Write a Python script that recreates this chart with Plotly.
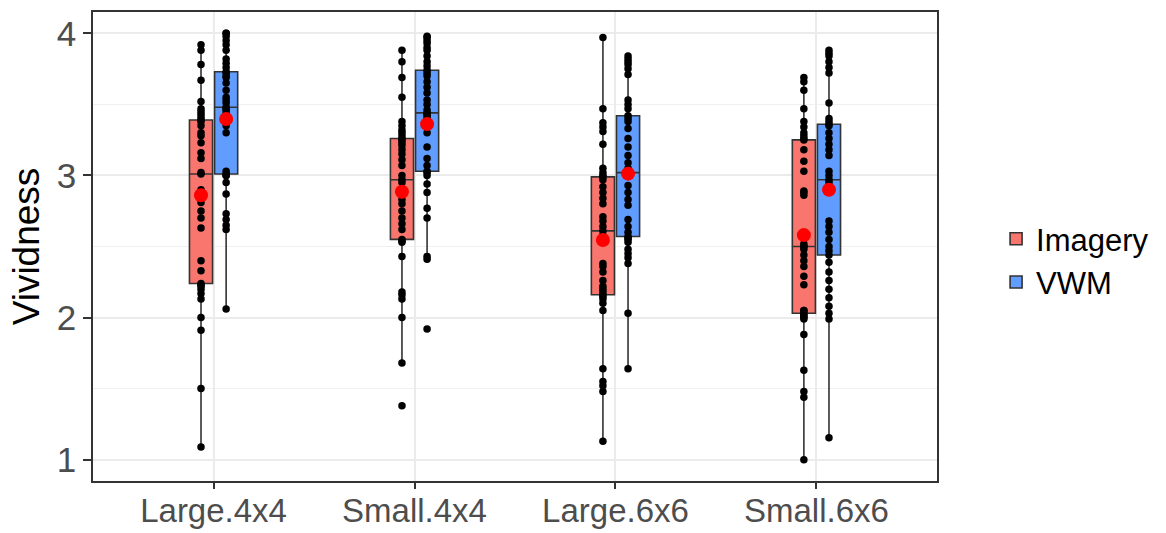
import numpy as np
import plotly.graph_objects as go

categories = ["Large.4x4", "Small.4x4", "Large.6x6", "Small.6x6"]
groups = ["Imagery", "VWM"]

imagery_large_4x4 = [1.09, 1.50, 1.91, 2.00, 2.13, 2.17, 2.20, 2.22, 2.23, 2.24,
                     2.33, 2.40, 2.63, 2.70, 2.75, 2.81, 2.85, 2.90, 3.01,
                     3.02, 3.12, 3.16, 3.23, 3.28, 3.30, 3.35, 3.38, 3.39,
                     3.41, 3.43, 3.45, 3.47, 3.52, 3.67, 3.78, 3.88, 3.92]
vwm_large_4x4 = [2.06, 2.62, 2.65, 2.69, 2.73, 2.87, 2.95, 3.00, 3.00, 3.01,
                 3.03, 3.30, 3.35, 3.40, 3.42, 3.44, 3.46, 3.47, 3.48,
                 3.51, 3.53, 3.55, 3.60, 3.65, 3.69, 3.70, 3.72, 3.73,
                 3.76, 3.79, 3.82, 3.88, 3.92, 3.95, 3.98, 4.00, 4.00]
imagery_small_4x4 = [1.38, 1.68, 2.00, 2.13, 2.16, 2.18, 2.43, 2.53, 2.54, 2.55,
                     2.62, 2.66, 2.70, 2.75, 2.80, 2.83, 2.90, 2.95, 2.97,
                     3.00, 3.07, 3.11, 3.15, 3.18, 3.21, 3.23, 3.25, 3.26,
                     3.28, 3.30, 3.32, 3.35, 3.38, 3.55, 3.69, 3.80, 3.88]
vwm_small_4x4 = [1.92, 2.41, 2.43, 2.70, 2.77, 2.88, 2.94, 3.00, 3.02, 3.03,
                 3.07, 3.12, 3.20, 3.30, 3.35, 3.40, 3.42, 3.43, 3.44,
                 3.46, 3.50, 3.53, 3.58, 3.62, 3.66, 3.70, 3.72, 3.74,
                 3.77, 3.80, 3.84, 3.88, 3.90, 3.93, 3.95, 3.97, 3.98]
imagery_large_6x6 = [1.13, 1.48, 1.52, 1.55, 1.64, 2.05, 2.10, 2.13, 2.15, 2.16,
                     2.18, 2.20, 2.22, 2.26, 2.32, 2.36, 2.38, 2.58, 2.61,
                     2.64, 2.68, 2.71, 2.80, 2.84, 2.88, 2.92, 2.97, 2.99,
                     3.00, 3.02, 3.05, 3.22, 3.31, 3.34, 3.37, 3.47, 3.97]
vwm_large_6x6 = [1.64, 2.03, 2.38, 2.42, 2.45, 2.48, 2.53, 2.55, 2.56, 2.57,
                 2.60, 2.64, 2.69, 2.79, 2.83, 2.88, 2.93, 3.00, 3.02,
                 3.05, 3.09, 3.14, 3.20, 3.26, 3.33, 3.38, 3.40, 3.42,
                 3.47, 3.50, 3.53, 3.71, 3.75, 3.78, 3.80, 3.82, 3.84]
imagery_small_6x6 = [1.00, 1.44, 1.48, 1.63, 1.88, 1.99, 2.00, 2.01, 2.02, 2.03,
                     2.05, 2.05, 2.23, 2.29, 2.36, 2.40, 2.44, 2.48, 2.50,
                     2.50, 2.52, 2.86, 2.88, 2.89, 3.03, 3.10, 3.18, 3.25,
                     3.26, 3.28, 3.30, 3.34, 3.38, 3.47, 3.60, 3.66, 3.69]
vwm_small_6x6 = [1.155, 1.99, 2.03, 2.08, 2.14, 2.20, 2.26, 2.32, 2.39, 2.44,
                 2.47, 2.50, 2.55, 2.60, 2.64, 2.68, 2.90, 2.95, 2.97,
                 3.00, 3.03, 3.14, 3.18, 3.22, 3.26, 3.30, 3.35, 3.36,
                 3.38, 3.40, 3.51, 3.72, 3.76, 3.80, 3.84, 3.86, 3.88]

series = {
    "Imagery": [imagery_large_4x4, imagery_small_4x4, imagery_large_6x6, imagery_small_6x6],
    "VWM": [vwm_large_4x4, vwm_small_4x4, vwm_large_6x6, vwm_small_6x6],
}
colors = {"Imagery": "#F8766D", "VWM": "#619CFF"}
offsets = {"Imagery": -0.0625, "VWM": 0.0625}
box_width = 0.115

fig = go.Figure()

def stats(v):
    a = np.asarray(v, dtype=float)
    q1, med, q3 = np.percentile(a, [25, 50, 75])
    iqr = q3 - q1
    lf = a[a >= q1 - 1.5 * iqr].min()
    uf = a[a <= q3 + 1.5 * iqr].max()
    return q1, med, q3, lf, uf

for g in groups:
    for i, vals in enumerate(series[g]):
        pos = i + 1 + offsets[g]
        q1, med, q3, lf, uf = stats(vals)
        fig.add_trace(go.Box(
            x=[pos], q1=[q1], median=[med], q3=[q3],
            lowerfence=[lf], upperfence=[uf],
            width=box_width, whiskerwidth=0,
            fillcolor=colors[g], line=dict(color="#333333", width=1.6),
            name=g, legendgroup=g, showlegend=(i == 0),
            boxpoints=False, hoverinfo="skip",
        ))

for g in groups:
    for i, vals in enumerate(series[g]):
        pos = i + 1 + offsets[g]
        fig.add_trace(go.Scatter(
            x=[pos] * len(vals), y=vals, mode="markers",
            marker=dict(color="black", size=7.5),
            showlegend=False, hoverinfo="skip",
        ))

for g in groups:
    for i, vals in enumerate(series[g]):
        pos = i + 1 + offsets[g]
        fig.add_trace(go.Scatter(
            x=[pos], y=[float(np.mean(vals))], mode="markers",
            marker=dict(color="red", size=14),
            showlegend=False, hoverinfo="skip",
        ))

fig.update_layout(
    width=1166, height=533,
    margin=dict(l=93, r=225, t=12, b=52),
    plot_bgcolor="white", paper_bgcolor="white",
    font=dict(family="Liberation Sans, Arial, sans-serif"),
    showlegend=True,
    legend=dict(x=1.07, y=0.47, xanchor="left", yanchor="middle",
                font=dict(size=31, color="black"),
                bgcolor="rgba(0,0,0,0)", tracegroupgap=0, itemwidth=30),
    boxmode="overlay",
)
fig.update_xaxes(
    range=[0.4, 4.6], tickvals=[1, 2, 3, 4], ticktext=categories,
    automargin=False,
    showgrid=True, gridcolor="#EBEBEB", gridwidth=1.5, zeroline=False,
    showline=True, mirror=True, linecolor="#333333", linewidth=1.5,
    ticks="outside", ticklen=6, tickcolor="#333333", tickwidth=1.5,
    ticklabelstandoff=-6,
    tickfont=dict(size=33, color="#4D4D4D"),
)
fig.update_yaxes(
    range=[0.85, 4.15], tickvals=[1, 2, 3, 4],
    automargin=False,
    showgrid=True, gridcolor="#EBEBEB", gridwidth=1.5, zeroline=False,
    minor=dict(tickvals=[1.5, 2.5, 3.5], showgrid=True, gridcolor="#F0F0F0", gridwidth=1),
    showline=True, mirror=True, linecolor="#333333", linewidth=1.5,
    ticks="outside", ticklen=8, tickcolor="#333333", tickwidth=1.5,
    tickfont=dict(size=35, color="#4D4D4D"),
    title=dict(text="Vividness", font=dict(size=37, color="black"), standoff=6),
)

fig.write_html("out.html")
